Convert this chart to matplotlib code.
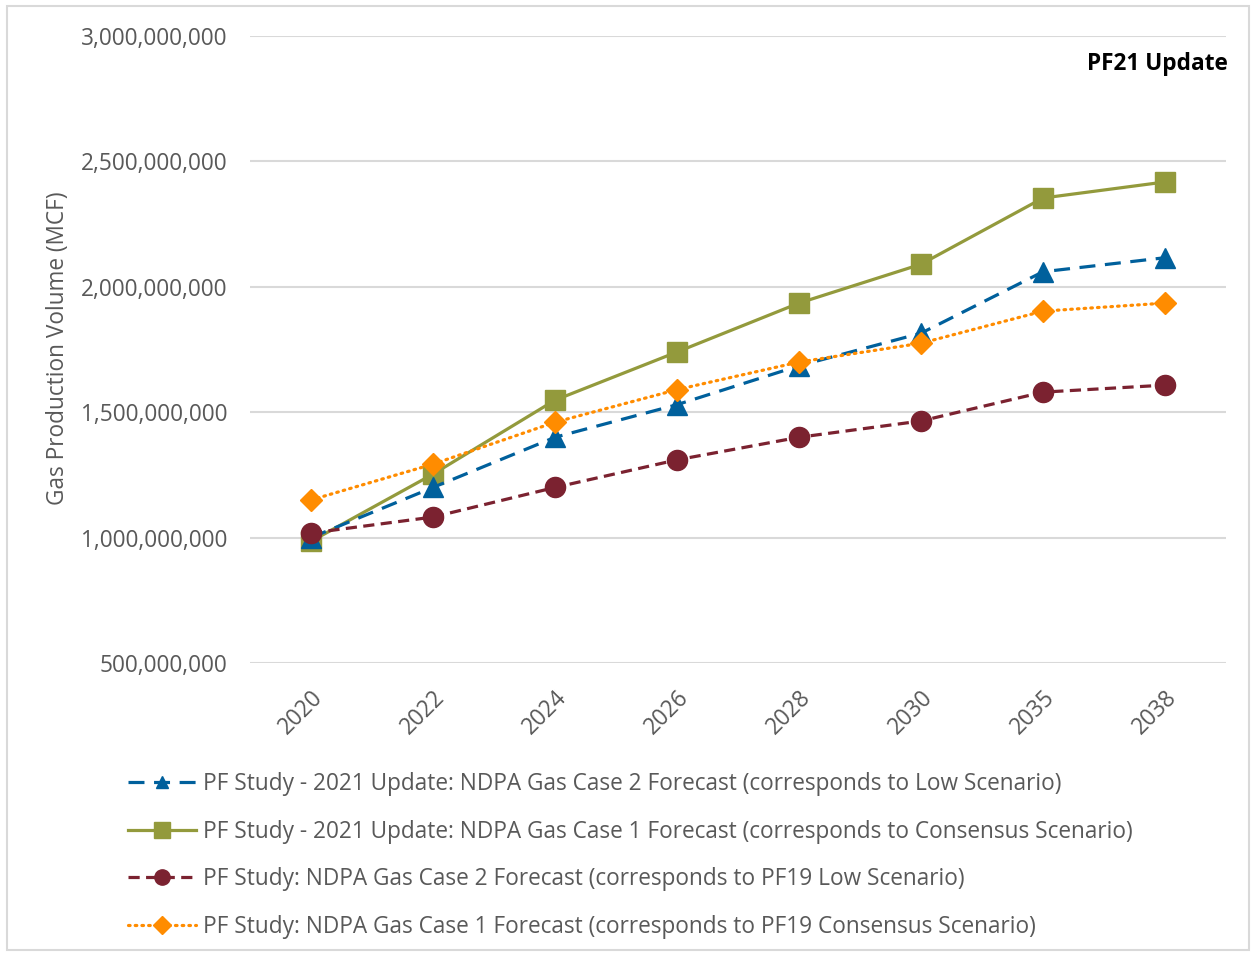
import matplotlib
matplotlib.use("Agg")
import matplotlib.pyplot as plt
from matplotlib.ticker import FuncFormatter
from matplotlib.patches import Rectangle

years = ["2020", "2022", "2024", "2026", "2028", "2030", "2035", "2038"]

case2_update = [1.000e9, 1.200e9, 1.400e9, 1.530e9, 1.685e9, 1.815e9, 2.060e9, 2.116e9]
case1_update = [0.985e9, 1.253e9, 1.548e9, 1.740e9, 1.935e9, 2.090e9, 2.354e9, 2.418e9]
case2_pf19 = [1.018e9, 1.082e9, 1.200e9, 1.310e9, 1.400e9, 1.465e9, 1.580e9, 1.608e9]
case1_pf19 = [1.150e9, 1.293e9, 1.460e9, 1.590e9, 1.700e9, 1.775e9, 1.903e9, 1.935e9]

labels = [
    "PF Study - 2021 Update: NDPA Gas Case 2 Forecast (corresponds to Low Scenario)",
    "PF Study - 2021 Update: NDPA Gas Case 1 Forecast (corresponds to Consensus Scenario)",
    "PF Study: NDPA Gas Case 2 Forecast (corresponds to PF19 Low Scenario)",
    "PF Study: NDPA Gas Case 1 Forecast (corresponds to PF19 Consensus Scenario)",
]

plt.rcParams['font.family'] = ['Open Sans', 'DejaVu Sans']
gray = "#595959"
fs = 16.3

fig = plt.figure(figsize=(12.54, 9.56), dpi=100)
fig.patches.append(Rectangle((7/1254, 6/956), 1 - 12/1254, 1 - 12/956, transform=fig.transFigure,
                             fill=False, edgecolor="#d9d9d9", linewidth=1.5))

ax = fig.add_axes([250/1254, 1 - 663/956, (1226-250)/1254, 627/956])
x = list(range(len(years)))

l1, = ax.plot(x, case2_update, color="#00609C", lw=2.3, linestyle=(0, (5, 3)),
              marker="^", markersize=14, zorder=4)
l2, = ax.plot(x, case1_update, color="#939A3C", lw=2.3, linestyle="-",
              marker="s", markersize=14, zorder=3)
l3, = ax.plot(x, case2_pf19, color="#7B2230", lw=2.3, linestyle=(0, (3.5, 2)),
              marker="o", markersize=14.5, zorder=5)
l4, = ax.plot(x, case1_pf19, color="#FF8C00", lw=2.3, linestyle=(0, (0.5, 1.6)),
              dash_capstyle="round", marker="D", markersize=11, zorder=6)

ax.set_xlim(-0.5, len(years) - 0.5)
ax.set_ylim(5e8, 3e9)
ax.set_yticks([5e8, 1e9, 1.5e9, 2e9, 2.5e9, 3e9])
ax.yaxis.set_major_formatter(FuncFormatter(lambda v, p: f"{int(v):,}"))
ax.set_xticks(x)
ax.set_xticklabels(years, rotation=45, ha="right", rotation_mode="anchor")
ax.grid(axis="y", color="#d9d9d9", lw=1.5)
ax.set_axisbelow(True)
for s in ax.spines.values():
    s.set_visible(False)
ax.tick_params(axis="both", length=0, labelsize=fs, labelcolor=gray)
ax.tick_params(axis="y", pad=16)
ax.tick_params(axis="x", pad=16)

fig.text(58/1254, 1 - 348/956, "Gas Production Volume (MCF)", rotation=90, ha="center",
         va="center", fontsize=fs, color=gray)
fig.text(1228/1254, 1 - 64/956, "PF21 Update", ha="right", va="center",
         fontsize=fs, fontweight="bold", color="black")

leg = fig.legend([l1, l2, l3, l4], labels, loc="upper left", bbox_to_anchor=(128/1254, 1 - 772/956),
                 frameon=False, fontsize=fs, labelcolor=gray, handlelength=3.0,
                 handletextpad=0.3, labelspacing=1.04, borderaxespad=0, borderpad=0)
for h, ms in zip(leg.legend_handles, [8, 11, 11, 9]):
    h.set_markersize(ms)

fig.savefig("out.png", dpi=100)
